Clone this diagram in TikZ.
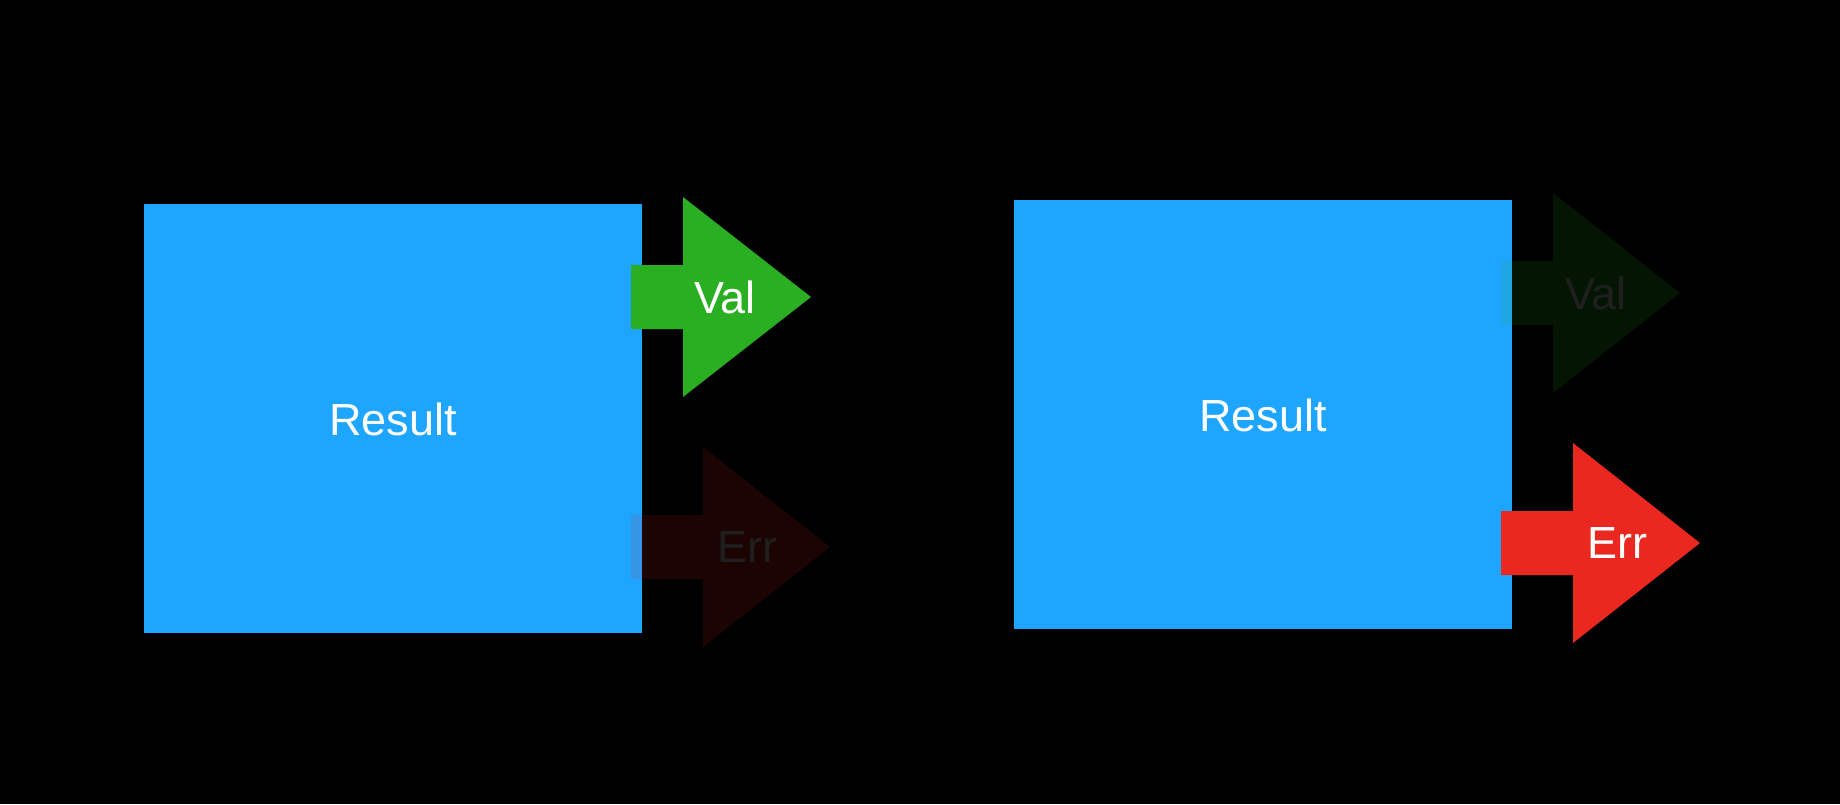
\documentclass[tikz,border=0pt]{standalone}
\usepackage{fontspec}
\setmainfont{Liberation Sans}
\definecolor{resblue}{RGB}{30,165,255}
\definecolor{valgreen}{RGB}{42,174,34}
\definecolor{errred}{RGB}{234,40,32}
\newcommand\myarrow[5]{% color, xstart, xbase, xtip, ycenter
  \fill[#1] (#2,#5-32) -- (#3,#5-32) -- (#3,#5-100) -- (#4,#5) -- (#3,#5+100) -- (#3,#5+32) -- (#2,#5+32) -- cycle;}
\begin{document}
\begin{tikzpicture}[x=1pt,y=-1pt,
  lbl/.style={text=white,font=\fontsize{45}{52}\selectfont,inner sep=0pt,anchor=center},
  faded/.style={opacity=0.12,transparency group}]
\fill[black] (0,0) rectangle (1840,804);
\useasboundingbox (0,0) rectangle (1840,804);
% left
\fill[resblue] (144,204) rectangle (642,633);
\node[lbl] (r1) at (393,419) {Result};
\myarrow{valgreen}{631}{683}{811}{297}
\node[lbl] (v1) at (725,297) {Val};
\begin{scope}[faded]
\myarrow{errred}{631}{703}{830}{547}
\node[lbl] (e1) at (747,547) {Err};
\end{scope}
% right
\fill[resblue] (1014,200) rectangle (1512,629);
\node[lbl] (r2) at (1263,415) {Result};
\begin{scope}[faded]
\myarrow{valgreen}{1501}{1553}{1680}{293}
\node[lbl] (v2) at (1596,293) {Val};
\end{scope}
\myarrow{errred}{1501}{1573}{1700}{543}
\node[lbl] (e2) at (1617,543) {Err};
\end{tikzpicture}
\end{document}
